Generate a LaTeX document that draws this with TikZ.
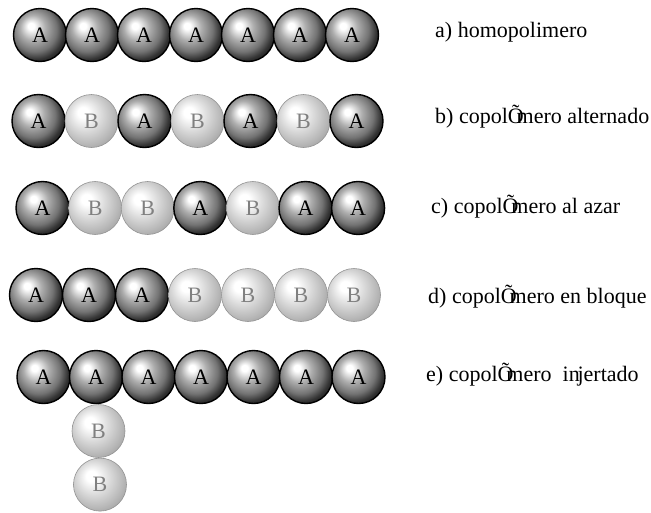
\documentclass[tikz,border=0pt]{standalone}
\usepackage{fontspec}
\setmainfont{Liberation Serif}
\usetikzlibrary{positioning}

% esferas con brillo arriba a la izquierda
\pgfdeclareradialshading{esferaA}{\pgfpoint{-9bp}{9bp}}{color(0bp)=(white); color(3bp)=(white); color(12bp)=(black!32); color(21bp)=(black!55); color(27bp)=(black!80); color(33bp)=(black!95); color(50bp)=(black)}
\pgfdeclareradialshading{esferaB}{\pgfpoint{-9bp}{9bp}}{color(0bp)=(white); color(5bp)=(white); color(16bp)=(black!15); color(26bp)=(black!28); color(33bp)=(black!38); color(50bp)=(black!42)}

\newcommand{\glifo}{\makebox[0.4em][l]{Õ}}

\tikzset{
  monoA/.style={circle, minimum size=53pt, inner sep=0pt, shading=esferaA, draw=black, line width=1.4pt, text=black},
  monoB/.style={circle, minimum size=53pt, inner sep=0pt, shading=esferaB, draw=black!42, line width=0.6pt, text=black!50},
  etiqueta/.style={anchor=base west, inner sep=0pt},
}

\begin{document}
\begin{tikzpicture}[x=1pt,y=-1pt,font=\fontsize{22}{26}\selectfont]
    \useasboundingbox (0,0) rectangle (651,512);

    % a) homopolimero
    \foreach \t [count=\i] in {A,A,A,A,A,A,A}
        \node[mono\t] (a\i) at ({40+52*(\i-1)},35) {\t};
    % b) alternado
    \foreach \t [count=\i] in {A,B,A,B,A,B,A}
        \node[mono\t] (b\i) at ({38.5+53*(\i-1)},121) {\t};
    % c) al azar
    \foreach \t [count=\i] in {A,B,B,A,B,A,A}
        \node[mono\t] (c\i) at ({42.5+52.6*(\i-1)},208) {\t};
    % d) en bloque
    \foreach \t [count=\i] in {A,A,A,B,B,B,B}
        \node[mono\t] (d\i) at ({36+53*(\i-1)},295) {\t};
    % e) injertado
    \foreach \t [count=\i] in {A,A,A,A,A,A,A}
        \node[mono\t] (e\i) at ({43.5+52.5*(\i-1)},377) {\t};
    \node[monoB, below=0pt of e2, xshift=2.5pt] (f1) {B};
    \node[monoB, below=0pt of f1, xshift=1.5pt] (f2) {B};

    \node[etiqueta] (la) at (435,37) {a) homopolimero};
    \node[etiqueta] (lb) at (435,123) {b) copol\glifo mero alternado};
    \node[etiqueta] (lc) at (431,213) {c) copol\glifo mero al azar};
    \node[etiqueta] (ld) at (428,303) {d) copol\glifo mero en bloque};
    \node[etiqueta] (le) at (426,381) {e) copol\glifo mero\hspace{0.5em}in\kern-0.1em jertado};
\end{tikzpicture}
\end{document}
